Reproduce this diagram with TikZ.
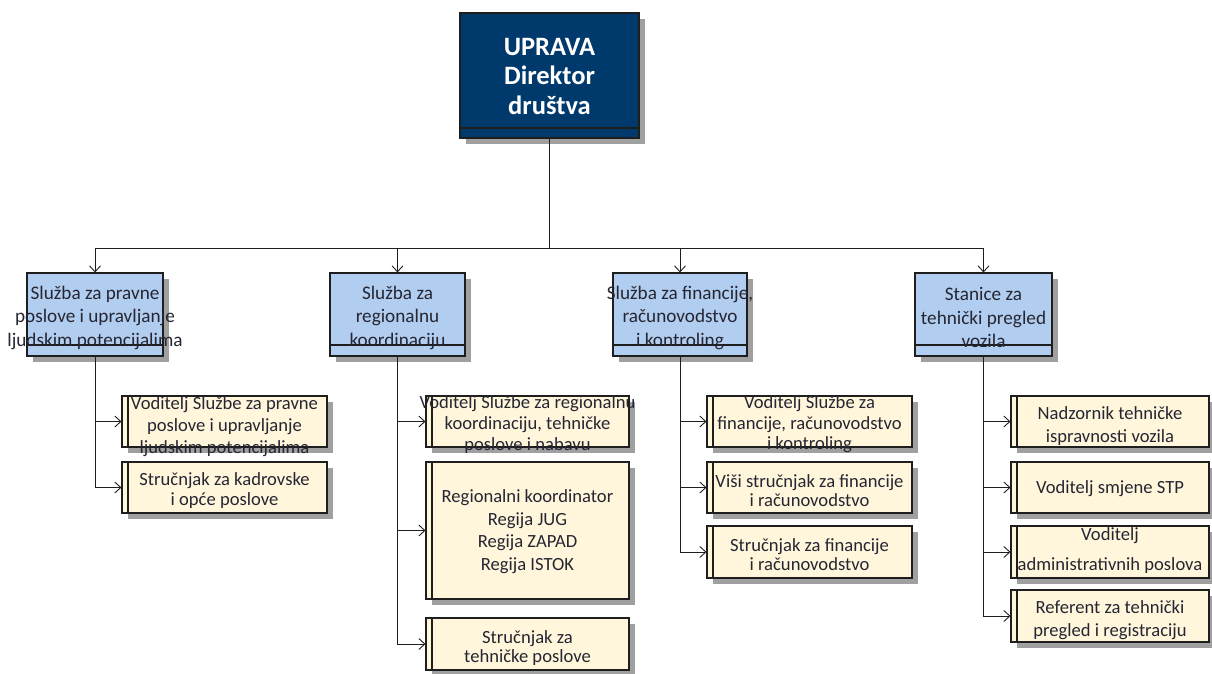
\documentclass[tikz,border=0pt]{standalone}
\usepackage{fontspec}
\setmainfont{Carlito}
\usetikzlibrary{arrows.meta,shadows}
\definecolor{navy}{HTML}{003A6C}
\definecolor{lblue}{HTML}{B1CDEF}
\definecolor{cream}{HTML}{FFF6DC}
\definecolor{shade}{HTML}{A0A0A0}
\definecolor{txt}{HTML}{262633}
\definecolor{ln}{HTML}{1E1E1E}
\tikzset{
 sh/.style={general shadow={fill=shade, shadow xshift=6pt, shadow yshift=-6pt}},
 topbox/.style={draw=ln, line width=1.2pt, fill=navy, inner sep=0pt, sh,
   path picture={\draw[ln, line width=1.2pt] ([yshift=10pt]path picture bounding box.south west) -- ([yshift=10pt]path picture bounding box.south east);}},
 toptext/.style={text=white, font=\bfseries\fontsize{26.5}{29.5}\selectfont, align=center, inner sep=0pt, yshift=-1pt},
 bluebox/.style={draw=ln, line width=1.1pt, fill=lblue, inner sep=0pt, sh,
   minimum height=83pt,
   path picture={\draw[ln, line width=1.1pt] ([yshift=11pt]path picture bounding box.south west) -- ([yshift=11pt]path picture bounding box.south east);}},
 bluetext/.style={text=txt, font=\fontsize{19.2}{23.5}\selectfont, align=center, inner sep=0pt, yshift=-3pt},
 yelbox/.style={draw=ln, line width=1.1pt, fill=cream, inner sep=0pt, sh,
   path picture={\draw[ln, line width=1.1pt] ([xshift=6pt]path picture bounding box.north west) -- ([xshift=6pt]path picture bounding box.south west);}},
 yeltext/.style={text=txt, font=\fontsize{18.6}{22}\selectfont, align=center, inner sep=0pt, yshift=-3pt},
 arr/.style={draw=ln, line width=1pt, -{Straight Barb[length=6pt,width=11pt,line width=0.9pt]}},
 conn/.style={draw=ln, line width=1pt}
}
\begin{document}
\begin{tikzpicture}[x=1pt,y=-1pt]
\useasboundingbox (0,0) rectangle (1212,673);
% top
\node[topbox, minimum width=179pt, minimum height=125pt,
  label={[toptext]center:{UPRAVA\\Direktor\\društva}}] (T) at (549.5,75.5) {};
% departments
\node[bluebox, minimum width=136pt, label={[bluetext]center:{Služba za pravne\\poslove i upravljanje\\ljudskim potencijalima}}] (b1) at (95,314.5) {};
\node[bluebox, minimum width=135pt, label={[bluetext]center:{Služba za\\regionalnu\\koordinaciju}}] (b2) at (397.5,314.5) {};
\node[bluebox, minimum width=134pt, label={[bluetext]center:{Služba za financije,\\računovodstvo\\i kontroling}}] (b3) at (680,314.5) {};
\node[bluebox, minimum width=137pt, label={[bluetext]center:{Stanice za\\tehnički pregled\\vozila}}] (b4) at (983.5,314.5) {};
% group 1
\node[yelbox, minimum width=205pt, minimum height=51pt,
  label={[yeltext, yshift=-2pt]center:{Voditelj Službe za pravne\\poslove i upravljanje\\ljudskim potencijalima}}] (y1a) at (224.5,421.5) {};
\node[yelbox, minimum width=205pt, minimum height=51pt,
  label={[yeltext, font=\fontsize{18.6}{19.5}\selectfont]center:{Stručnjak za kadrovske\\i opće poslove}}] (y1b) at (224.5,487.5) {};
% group 2
\node[yelbox, minimum width=203pt, minimum height=51pt,
  label={[yeltext, font=\fontsize{18.6}{21}\selectfont]center:{Voditelj Službe za regionalnu\\koordinaciju, tehničke\\poslove i nabavu}}] (y2a) at (527.5,421.5) {};
\node[yelbox, minimum width=203pt, minimum height=137pt,
  label={[yeltext, yshift=2pt, font=\fontsize{18.6}{22.6}\selectfont]center:{Regionalni koordinator\\Regija JUG\\Regija ZAPAD\\Regija ISTOK}}] (y2b) at (527.5,530.5) {};
\node[yelbox, minimum width=203pt, minimum height=52pt,
  label={[yeltext, yshift=-1pt, font=\fontsize{18.6}{18.5}\selectfont]center:{Stručnjak za\\tehničke poslove}}] (y2c) at (527.5,644) {};
% group 3
\node[yelbox, minimum width=205pt, minimum height=51pt,
  label={[yeltext, font=\fontsize{18.6}{20.5}\selectfont]center:{Voditelj Službe za\\financije, računovodstvo\\i kontroling}}] (y3a) at (809.5,421.5) {};
\node[yelbox, minimum width=205pt, minimum height=51pt,
  label={[yeltext, font=\fontsize{18.6}{19}\selectfont]center:{Viši stručnjak za financije\\i računovodstvo}}] (y3b) at (809.5,487.5) {};
\node[yelbox, minimum width=205pt, minimum height=52pt,
  label={[yeltext, font=\fontsize{18.6}{19}\selectfont]center:{Stručnjak za financije\\i računovodstvo}}] (y3c) at (809.5,552) {};
% group 4
\node[yelbox, minimum width=198pt, minimum height=51pt,
  label={[yeltext, yshift=-2pt, font=\fontsize{18.6}{23}\selectfont]center:{Nadzornik tehničke\\ispravnosti vozila}}] (y4a) at (1110,421.5) {};
\node[yelbox, minimum width=198pt, minimum height=51pt,
  label={[yeltext, yshift=2pt]center:{Voditelj smjene STP}}] (y4b) at (1110,487.5) {};
\node[yelbox, minimum width=198pt, minimum height=52pt,
  label={[yeltext, yshift=4pt, font=\fontsize{18.6}{30}\selectfont]center:{Voditelj\\administrativnih poslova}}] (y4c) at (1110,552) {};
\node[yelbox, minimum width=198pt, minimum height=52pt,
  label={[yeltext, yshift=-1pt, font=\fontsize{18.6}{23}\selectfont]center:{Referent za tehnički\\pregled i registraciju}}] (y4d) at (1110,616) {};
% connectors top
\coordinate (bus) at (549.5,248);
\draw[conn] (T.south) -- (bus);
\foreach \b in {b1,b2,b3,b4}{\draw[arr] (bus) -| (\b.north);}
% connectors groups
\foreach \c in {y1a,y1b}{\draw[arr] (b1.south) |- (\c.west);}
\foreach \c in {y2a,y2b,y2c}{\draw[arr] (b2.south) |- (\c.west);}
\foreach \c in {y3a,y3b,y3c}{\draw[arr] (b3.south) |- (\c.west);}
\foreach \c in {y4a,y4b,y4c,y4d}{\draw[arr] (b4.south) |- (\c.west);}
\end{tikzpicture}
\end{document}
